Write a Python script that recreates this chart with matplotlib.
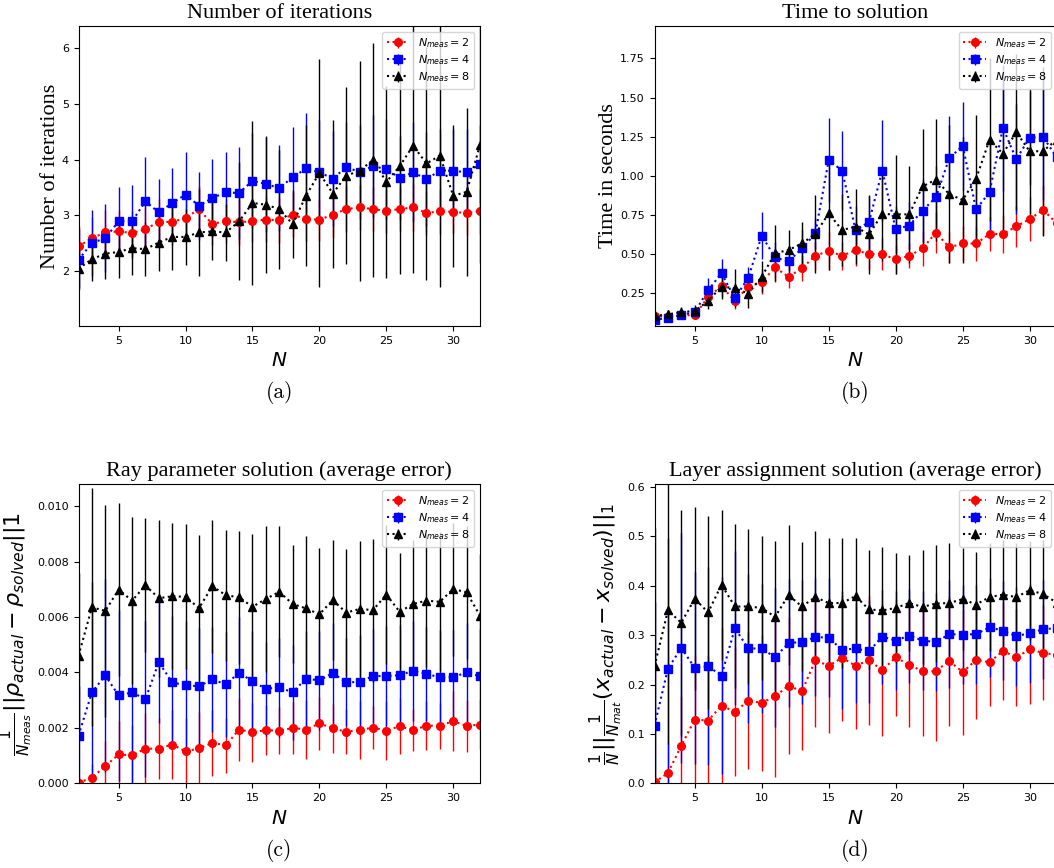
import numpy as np
import matplotlib as mpl
mpl.use('Agg')
import matplotlib.pyplot as plt

# problem sizes
N = list(range(2, 33))

# (a) number of iterations
a_red = [2.44, 2.59, 2.69, 2.71, 2.68, 2.75, 2.88, 2.88, 2.95, 3.11, 2.84, 2.90, 2.87, 2.90, 2.92, 2.91,
         3.01, 2.93, 2.92, 3.01, 3.11, 3.14, 3.11, 3.08, 3.11, 3.14, 3.04, 3.07, 3.06, 3.04, 3.07]
a_red_err = [0.36, 0.38, 0.40, 0.38, 0.40, 0.40, 0.42, 0.42, 0.40, 0.42, 0.38, 0.40, 0.40, 0.38, 0.40, 0.40,
             0.40, 0.40, 0.38, 0.42, 0.42, 0.40, 0.40, 0.40, 0.40, 0.42, 0.40, 0.40, 0.38, 0.40, 0.40]
a_blue = [2.20, 2.50, 2.59, 2.89, 2.89, 3.25, 3.05, 3.22, 3.37, 3.17, 3.31, 3.41, 3.40, 3.62, 3.56, 3.49,
          3.68, 3.84, 3.77, 3.66, 3.86, 3.78, 3.88, 3.83, 3.67, 3.77, 3.65, 3.80, 3.80, 3.77, 3.92]
a_blue_err = [0.55, 0.60, 0.61, 0.61, 0.65, 0.80, 0.61, 0.62, 0.76, 0.61, 0.70, 0.72, 0.82, 0.85, 0.87, 0.77,
              0.91, 1.00, 0.95, 0.85, 0.82, 0.85, 0.92, 0.90, 0.75, 0.90, 0.85, 0.75, 0.75, 0.78, 0.70]
a_black = [2.04, 2.21, 2.31, 2.34, 2.41, 2.39, 2.51, 2.61, 2.61, 2.69, 2.71, 2.69, 2.89, 3.22, 3.19, 3.11,
           2.84, 3.35, 3.76, 3.39, 3.71, 3.80, 3.99, 3.60, 3.88, 4.25, 3.93, 4.07, 3.35, 3.42, 4.26]
a_black_err = [0.35, 0.40, 0.46, 0.47, 0.48, 0.49, 0.51, 0.59, 0.51, 0.79, 0.52, 0.51, 1.06, 1.48, 1.22, 1.07,
               0.61, 1.27, 2.05, 1.33, 1.59, 1.98, 2.10, 1.72, 1.93, 2.28, 2.10, 2.36, 1.28, 1.51, 2.12]

# (b) time to solution
b_red = [0.105, 0.10, 0.109, 0.11, 0.226, 0.295, 0.20, 0.293, 0.323, 0.415, 0.355, 0.41, 0.489, 0.521, 0.489, 0.526,
         0.50, 0.50, 0.466, 0.489, 0.536, 0.637, 0.543, 0.568, 0.568, 0.628, 0.628, 0.677, 0.724, 0.782, 0.699]
b_red_err = [0.03, 0.02, 0.02, 0.02, 0.05, 0.07, 0.05, 0.06, 0.08, 0.09, 0.07, 0.08, 0.09, 0.12, 0.09, 0.10,
             0.10, 0.10, 0.09, 0.08, 0.11, 0.13, 0.10, 0.11, 0.11, 0.11, 0.12, 0.13, 0.14, 0.16, 0.14]
b_blue = [0.079, 0.094, 0.111, 0.13, 0.269, 0.378, 0.218, 0.35, 0.617, 0.479, 0.453, 0.536, 0.632, 1.10, 1.034, 0.656,
          0.703, 1.034, 0.66, 0.682, 0.778, 0.863, 1.113, 1.192, 0.786, 0.895, 1.306, 1.107, 1.244, 1.248, 1.12]
b_blue_err = [0.02, 0.02, 0.02, 0.03, 0.08, 0.09, 0.04, 0.07, 0.15, 0.10, 0.10, 0.12, 0.10, 0.27, 0.25, 0.15,
              0.17, 0.32, 0.15, 0.15, 0.20, 0.20, 0.27, 0.28, 0.20, 0.30, 0.40, 0.35, 0.30, 0.40, 0.35]
b_black = [0.105, 0.115, 0.13, 0.137, 0.20, 0.293, 0.282, 0.248, 0.355, 0.506, 0.526, 0.568, 0.628, 0.76, 0.654, 0.675,
           0.626, 0.756, 0.754, 0.754, 0.932, 0.976, 0.882, 0.846, 0.981, 1.23, 1.141, 1.28, 1.156, 1.158, 1.23]
b_black_err = [0.03, 0.03, 0.03, 0.04, 0.05, 0.08, 0.12, 0.09, 0.10, 0.18, 0.13, 0.14, 0.25, 0.36, 0.23, 0.24,
               0.25, 0.30, 0.38, 0.31, 0.37, 0.39, 0.44, 0.40, 0.41, 0.52, 0.50, 0.50, 0.40, 0.54, 0.50]

# (c) ray parameter error
c_red = [0.00002, 0.0002, 0.00062, 0.00104, 0.00101, 0.00125, 0.00125, 0.0014, 0.00115, 0.00126, 0.00146,
         0.00137, 0.00194, 0.00184, 0.00192, 0.00189, 0.002, 0.00194, 0.00216, 0.00198, 0.00186, 0.00192,
         0.00201, 0.0019, 0.00206, 0.00192, 0.00208, 0.00208, 0.00224, 0.00207, 0.00212]
c_red_err = [0.0002, 0.0005, 0.0009, 0.0012, 0.0011, 0.0013, 0.0011, 0.00125, 0.0012, 0.0013, 0.0012,
             0.001, 0.00114, 0.00107, 0.0009, 0.00085, 0.00093, 0.00105, 0.00097, 0.00088, 0.00082, 0.00106,
             0.00079, 0.00106, 0.00102, 0.00076, 0.00088, 0.00083, 0.00108, 0.00094, 0.0009]
c_blue = [0.00172, 0.00328, 0.00389, 0.00317, 0.00328, 0.00304, 0.00437, 0.00364, 0.00354, 0.0035, 0.00375,
          0.00357, 0.00399, 0.00368, 0.00341, 0.00346, 0.00328, 0.00378, 0.00371, 0.00398, 0.00365, 0.00365,
          0.00387, 0.00387, 0.0039, 0.00406, 0.00395, 0.00382, 0.00383, 0.004, 0.00386]
c_blue_err = [0.0018, 0.004, 0.0035, 0.0031, 0.0033, 0.0028, 0.0022, 0.0024, 0.0023, 0.0021, 0.0019,
              0.0019, 0.002, 0.0018, 0.0017, 0.0018, 0.0017, 0.0017, 0.0018, 0.0018, 0.0016, 0.0017,
              0.0017, 0.0018, 0.0018, 0.0018, 0.0017, 0.0017, 0.0017, 0.0018, 0.0017]
c_black = [0.0046, 0.00635, 0.00622, 0.00699, 0.00659, 0.00714, 0.00668, 0.00675, 0.00673, 0.00632, 0.00711,
           0.00679, 0.00671, 0.00637, 0.00665, 0.00691, 0.00647, 0.00631, 0.0061, 0.00661, 0.00616, 0.00629,
           0.00625, 0.00681, 0.00619, 0.00647, 0.00659, 0.00655, 0.00701, 0.00689, 0.00605]
c_black_err = [0.0030, 0.0043, 0.00384, 0.00312, 0.00301, 0.00242, 0.00283, 0.00264, 0.00261, 0.00263, 0.0024,
               0.00236, 0.00239, 0.00263, 0.00262, 0.00237, 0.00212, 0.0026, 0.0024, 0.00216, 0.0023, 0.00245,
               0.00258, 0.0025, 0.00212, 0.0023, 0.0024, 0.0025, 0.0024, 0.0024, 0.00224]

# (d) layer assignment error
d_red = [0.002, 0.021, 0.076, 0.129, 0.127, 0.157, 0.145, 0.167, 0.163, 0.176, 0.198, 0.186, 0.249, 0.238,
         0.254, 0.238, 0.249, 0.229, 0.255, 0.240, 0.227, 0.227, 0.248, 0.225, 0.25, 0.245, 0.268, 0.255,
         0.271, 0.264, 0.26]
d_red_err = [0.01, 0.06, 0.10, 0.13, 0.13, 0.157, 0.13, 0.139, 0.138, 0.163, 0.138, 0.118, 0.136, 0.136,
             0.128, 0.128, 0.13, 0.134, 0.118, 0.125, 0.131, 0.141, 0.131, 0.128, 0.12, 0.088, 0.099, 0.098,
             0.11, 0.096, 0.1]
d_blue = [0.117, 0.232, 0.274, 0.234, 0.237, 0.218, 0.314, 0.273, 0.273, 0.255, 0.284, 0.286, 0.296, 0.295,
          0.27, 0.273, 0.267, 0.297, 0.289, 0.299, 0.289, 0.286, 0.302, 0.301, 0.302, 0.316, 0.309, 0.298,
          0.304, 0.312, 0.314]
d_blue_err = [0.25, 0.265, 0.233, 0.194, 0.2, 0.2, 0.156, 0.15, 0.131, 0.14, 0.13, 0.125, 0.12, 0.12,
              0.12, 0.11, 0.105, 0.095, 0.1, 0.095, 0.1, 0.1, 0.11, 0.1, 0.1, 0.1, 0.1, 0.1, 0.1, 0.1, 0.1]
d_black = [0.237, 0.35, 0.325, 0.374, 0.346, 0.402, 0.358, 0.358, 0.355, 0.337, 0.381, 0.358, 0.377, 0.365,
           0.365, 0.379, 0.352, 0.35, 0.355, 0.365, 0.357, 0.364, 0.365, 0.373, 0.362, 0.377, 0.382, 0.377,
           0.391, 0.383, 0.366]
d_black_err = [0.28, 0.27, 0.229, 0.185, 0.196, 0.152, 0.166, 0.157, 0.145, 0.154, 0.141, 0.131, 0.133, 0.132,
               0.132, 0.118, 0.12, 0.128, 0.111, 0.098, 0.115, 0.119, 0.121, 0.103, 0.106, 0.11, 0.11, 0.11,
               0.1, 0.11, 0.1]

labels = [r'$N_{meas} = 2$', r'$N_{meas} = 4$', r'$N_{meas} = 8$']
fmts = ['ro:', 'bs:', 'k^:']

serif = 'Liberation Serif'

W, H = 1054., 868.
fig = plt.figure(figsize=(W / 100, H / 100), dpi=100)


def panel(rect, series, title, ylabel, ylim, caption, cap_y, ylabel_serif):
    ax = fig.add_axes([rect[0] / W, 1 - rect[3] / H, (rect[2] - rect[0]) / W, (rect[3] - rect[1]) / H])
    for (m, e), fmt, lab in zip(series, fmts, labels):
        ax.errorbar(N, m, yerr=e, fmt=fmt, markersize=5.5, linewidth=1.5, elinewidth=1.0, label=lab)
    ax.set_xlim(2, 32)
    ax.set_ylim(*ylim)
    ax.set_title(title, fontfamily=serif, fontsize=16)
    ax.set_xlabel(r'$N$', fontsize=14.5)
    if ylabel_serif:
        ax.set_ylabel(ylabel, fontfamily=serif, fontsize=16, labelpad=1.5)
    else:
        ax.set_ylabel(ylabel, fontsize=16, labelpad=1.5)
    ax.tick_params(labelsize=8)
    ax.legend(loc='upper right', fontsize=8, labelspacing=0.3)
    cx = (rect[0] + rect[2]) / 2 / W
    fig.text(cx, 1 - cap_y / H, caption, ha='center', va='center',
             fontfamily='cmr10', fontsize=15.5)
    return ax


panel((78.5, 26, 480, 326), [(a_red, a_red_err), (a_blue, a_blue_err), (a_black, a_black_err)],
      'Number of iterations', 'Number of iterations', (1.01, 6.40), '(a)', 393, True)
panel((654.5, 26, 1056.5, 326), [(b_red, b_red_err), (b_blue, b_blue_err), (b_black, b_black_err)],
      'Time to solution', 'Time in seconds', (0.041, 1.957), '(b)', 393, True)
panel((78.5, 484, 480, 783.3), [(c_red, c_red_err), (c_blue, c_blue_err), (c_black, c_black_err)],
      'Ray parameter solution (average error)',
      r'$\frac{1}{N_{meas}}||\rho_{actual} - \rho_{solved}||1$', (0, 0.0108), '(c)', 851, False)
panel((654.5, 484, 1056.5, 783.3), [(d_red, d_red_err), (d_blue, d_blue_err), (d_black, d_black_err)],
      'Layer assignment solution (average error)',
      r'$\frac{1}{N}||\frac{1}{N_{mat}}(x_{actual} - x_{solved})||_1$', (0, 0.606), '(d)', 851, False)

fig.savefig('out.png', dpi=100)
